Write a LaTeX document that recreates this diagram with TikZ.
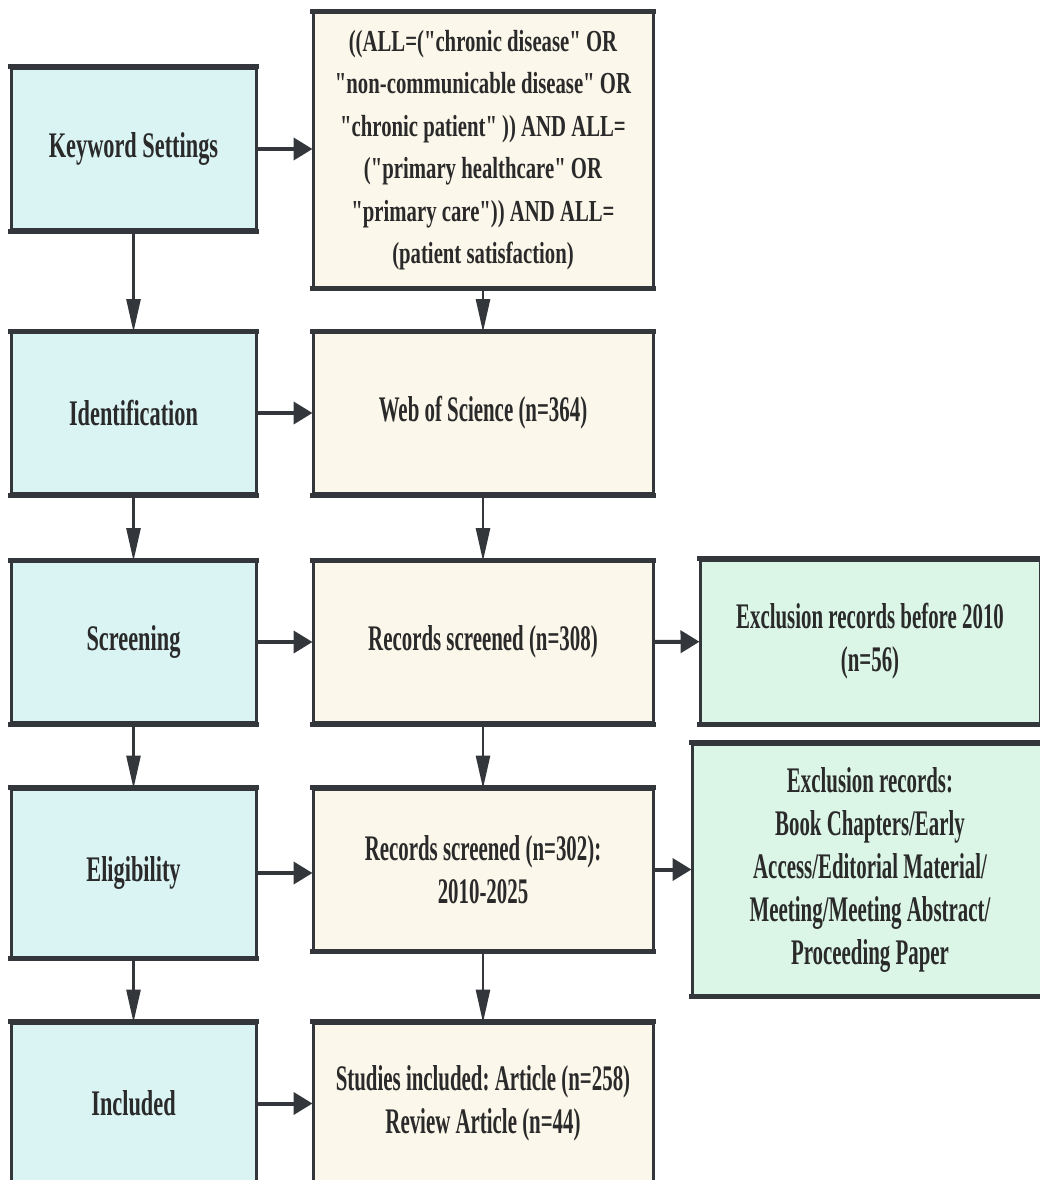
\documentclass[tikz,border=0pt]{standalone}
\usepackage{fontspec}
\setmainfont{Liberation Serif}[FakeStretch=0.58, Ligatures=TeXOff]
\newfontfamily\leftfont{Liberation Serif}[FakeStretch=0.62, Ligatures=TeXOff]
\newfontfamily\queryfont{Liberation Serif}[FakeStretch=0.68, Ligatures=TeXOff]
\usetikzlibrary{arrows.meta,positioning}
\definecolor{edgec}{HTML}{33363A}
\definecolor{txtc}{HTML}{2A2A2A}
\definecolor{stagec}{HTML}{D9F4F3}
\definecolor{recc}{HTML}{FBF7EA}
\definecolor{exclc}{HTML}{DBF5E7}
\tikzset{
  box/.style={draw=edgec, line width=3pt, align=center, text=txtc,
    font=\fontsize{36}{43}\selectfont\bfseries\frenchspacing, inner sep=0pt},
  stagebox/.style={box, fill=stagec, minimum width=245pt, minimum height=161pt,
    font=\leftfont\fontsize{36}{43}\selectfont\bfseries},
  recbox/.style={box, fill=recc, minimum width=340pt, minimum height=161pt},
  exclbox/.style={box, fill=exclc},
  hconn/.style={draw=edgec, line width=4pt, -{Triangle[length=19pt,width=22pt]}, shorten >=-1pt},
  vconn/.style={draw=edgec, line width=2.7pt, -{Triangle[length=33pt,width=14pt]}, shorten >=-1pt},
  edgeline/.style={draw=edgec, line width=5pt, shorten <=-1.5pt, shorten >=-1.5pt},
}
\begin{document}
\begin{tikzpicture}[x=1pt,y=-1pt]
\useasboundingbox[fill=white] (0,0) rectangle (1039,1180);
% left column
\node[stagebox] (kw)  at (133.5,149) {Keyword Settings};
\node[stagebox] (id)  at (133.5,413) {Identification};
\node[stagebox] (scr) at (133.5,642) {Screening};
\node[stagebox, minimum height=168pt] (elig) at (133.5,873) {Eligibility};
\node[stagebox] (inc) at (133.5,1103.5) {Included};
% middle column
\node[recbox, minimum height=274pt, font=\queryfont\fontsize{30.5}{42.5}\selectfont\bfseries] (q) at (483,150)
  {((ALL=("chronic disease" OR\\
  "non-communicable disease" OR\\
  "chronic patient" )) AND ALL=\\
  ("primary healthcare" OR\\
  "primary care")) AND ALL=\\
  (patient satisfaction)};
\node[recbox] (wos) at (483,413) {Web of Science (n=364)};
\node[recbox] (r308) at (483,642) {Records screened (n=308)};
\node[recbox] (r302) at (483,869.5) {Records screened (n=302):\\2010-2025};
\node[recbox] (stud) at (483,1103.5) {Studies included: Article (n=258)\\Review Article (n=44)};
% right column
\node[exclbox, minimum width=340pt, minimum height=163pt] (ex1) at (870,641.5)
  {Exclusion records before 2010\\(n=56)};
\node[exclbox, minimum width=356pt, minimum height=251pt] (ex2) at (870,869.5)
  {Exclusion records:\\Book Chapters/Early\\Access/Editorial Material/\\Meeting/Meeting Abstract/\\Proceeding Paper};
% thicker top and bottom edges
\foreach \n in {kw,id,scr,elig,inc,q,wos,r308,r302,stud,ex1,ex2}{
  \draw[edgeline] (\n.north west) -- (\n.north east);
  \draw[edgeline] (\n.south west) -- (\n.south east);
}
% connectors
\draw[hconn] (kw) -- (kw.east -| q.west);
\draw[hconn] (id) -- (wos);
\draw[hconn] (scr) -- (r308);
\draw[hconn] (elig.east) -- (elig.east -| r302.west);
\draw[hconn] (inc) -- (stud);
\draw[hconn] (r308) -- (ex1);
\draw[hconn] (r302) -- (r302.east -| ex2.west);
\draw[vconn] (kw.south) -- (id.north);
\draw[vconn] (id.south) -- (scr.north);
\draw[vconn] (scr.south) -- (elig.north);
\draw[vconn] (elig.south) -- (inc.north);
\draw[vconn] (q.south) -- (wos.north);
\draw[vconn] (wos.south) -- (r308.north);
\draw[vconn] (r308.south) -- (r302.north);
\draw[vconn] (r302.south) -- (stud.north);
\end{tikzpicture}
\end{document}
